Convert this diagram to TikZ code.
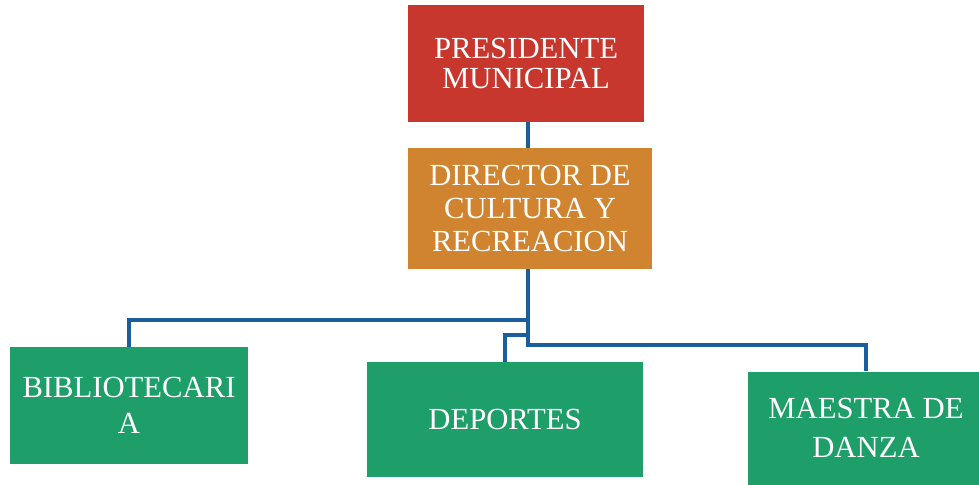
\documentclass[tikz,border=0pt]{standalone}
\usepackage{fontspec}
\setmainfont{Liberation Serif}
\definecolor{cred}{HTML}{C8372D}
\definecolor{corange}{HTML}{D0842F}
\definecolor{cgreen}{HTML}{1E9E68}
\definecolor{cblue}{HTML}{1A5E9E}
\tikzset{
  box/.style={rectangle, draw=none, text=white, align=center, inner sep=0pt},
  conn/.style={draw=cblue, line width=2.8pt},
}
\begin{document}
\begin{tikzpicture}[x=0.75pt,y=-0.75pt]
\useasboundingbox (0,0) rectangle (979,485);
\fill[white] (0,0) rectangle (979,485);
\clip (0,0) rectangle (979,485);
\coordinate (j1) at (528,320);
\coordinate (j2) at (528,335);
\coordinate (j3) at (528,345);
\node[box, fill=cred, minimum width=177pt, minimum height=87.75pt,
  font=\fontsize{23}{23}\selectfont] (pres) at (526,63.5) {PRESIDENTE\\MUNICIPAL};
\node[box, fill=corange, minimum width=183pt, minimum height=90.75pt,
  font=\fontsize{23}{25}\selectfont] (dir) at (530,208.5) {DIRECTOR DE\\CULTURA Y\\RECREACION};
\node[box, fill=cgreen, minimum width=178.5pt, minimum height=87.75pt,
  font=\fontsize{23}{27.5}\selectfont] (bib) at (129,405.5) {BIBLIOTECARI\\A};
\node[box, fill=cgreen, minimum width=207pt, minimum height=86.25pt,
  font=\fontsize{23}{27.5}\selectfont] (dep) at (505,419.5) {DEPORTES};
\node[box, fill=cgreen, minimum width=177pt, minimum height=84.75pt,
  font=\fontsize{23}{29}\selectfont] (mae) at (866,428) {MAESTRA DE\\DANZA};
\draw[conn] (pres.south -| j1) -- (dir.north -| j1);
\draw[conn] (dir.south -| j1) -- (j3) -| (mae.north);
\draw[conn] (j1) -| (bib.north);
\draw[conn] (j2) -| (dep.north);
\end{tikzpicture}
\end{document}
